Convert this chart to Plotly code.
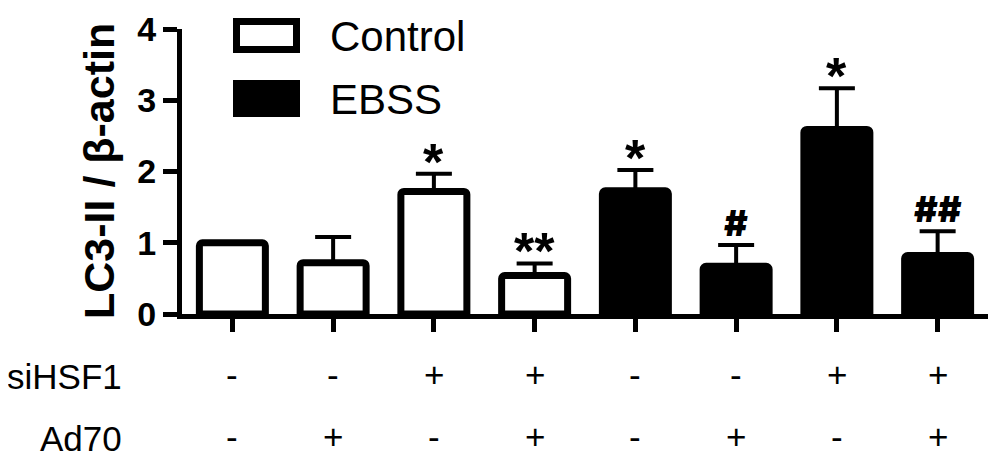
import plotly.graph_objects as go

# ---------------- data ----------------
groups = ["Control", "EBSS"]
bar_pos = [0, 1, 2, 3, 4, 5, 6, 7]
bar_group = ["Control", "Control", "Control", "Control", "EBSS", "EBSS", "EBSS", "EBSS"]
means = [1.00, 0.72, 1.72, 0.54, 1.73, 0.67, 2.59, 0.82]
err_up = [0.00, 0.36, 0.25, 0.17, 0.29, 0.30, 0.58, 0.34]
sig_marks = ["", "", "*", "**", "*", "#", "*", "##"]
siHSF1 = ["-", "-", "+", "+", "-", "-", "+", "+"]
ad70 = ["-", "+", "-", "+", "-", "+", "-", "+"]
row_labels = ["siHSF1", "Ad70"]
y_ticks = [0, 1, 2, 3, 4]
y_title = "LC3-II / β-actin"

# ---------------- style ----------------
FONT = "Arial, Liberation Sans, sans-serif"
HASH_FONT = "Inter, DejaVu Sans, sans-serif"
fills = {"Control": "white", "EBSS": "black"}
W, H = 1000, 476
OFF = 8  # page body margin
# plot area in screen pixels
PL, PR, PT, PB = 182, 988, 29, 314
ml, mr, mt, mb = PL - OFF, W - (PR - OFF), PT - OFF, H - (PB - OFF)
pw, ph = PR - PL, PB - PT


def px2paper_x(px):
    return (px - PL) / pw


def px2paper_y(py):
    return (PB - py) / ph


fig = go.Figure()
for g in groups:
    idx = [i for i, gg in enumerate(bar_group) if gg == g]
    fig.add_trace(go.Bar(
        x=[bar_pos[i] for i in idx],
        y=[means[i] for i in idx],
        width=0.655,
        name=g,
        marker=dict(color=fills[g], line=dict(color="black", width=7), cornerradius=3),
        error_y=dict(type="data", symmetric=False,
                     array=[err_up[i] for i in idx],
                     arrayminus=[0 for _ in idx],
                     color="black", thickness=4, width=18),
        showlegend=False,
    ))

annotations = []
# significance marks
for i, s in enumerate(sig_marks):
    if not s:
        continue
    is_star = "*" in s
    annotations.append(dict(
        x=bar_pos[i], y=means[i] + err_up[i], xref="x", yref="y",
        text=s, showarrow=False, yanchor="middle",
        yshift=(12 if is_star else 22),
        font=dict(family=FONT if is_star else HASH_FONT,
                  size=52 if is_star else 36, color="black",
                  weight=700 if is_star else 900),
    ))

# condition rows
rows = [siHSF1, ad70]
row_y = [374, 436]
for lab, vals, py in zip(row_labels, rows, row_y):
    annotations.append(dict(
        x=px2paper_x(124), y=px2paper_y(py + 2), xref="paper", yref="paper",
        text=lab, showarrow=False, xanchor="right", yanchor="middle",
        font=dict(family=FONT, size=35, color="black"),
    ))
    for i, v in enumerate(vals):
        annotations.append(dict(
            x=bar_pos[i], y=px2paper_y(py), xref="x", yref="paper",
            text=v, showarrow=False, xanchor="center", yanchor="middle",
            font=dict(family=FONT, size=35, color="black"),
        ))

# y-axis title
annotations.append(dict(
    x=px2paper_x(99), y=px2paper_y(171), xref="paper", yref="paper",
    text="<b>" + y_title + "</b>", textangle=-90, showarrow=False,
    xanchor="center", yanchor="middle",
    font=dict(family=FONT, size=43, color="black"),
))

# legend (drawn manually to get large swatches)
shapes = []
leg_rows = [(groups[0], 18, 53), (groups[1], 80, 117)]
for g, top, bot in leg_rows:
    shapes.append(dict(
        type="rect", xref="paper", yref="paper",
        x0=px2paper_x(236.5), x1=px2paper_x(296.5),
        y0=px2paper_y(bot - 3.5), y1=px2paper_y(top + 3.5),
        line=dict(color="black", width=7), fillcolor=fills[g], layer="above",
    ))
    annotations.append(dict(
        x=px2paper_x(328), y=px2paper_y((top + bot) / 2 + 1), xref="paper", yref="paper",
        text=g, showarrow=False, xanchor="left", yanchor="middle",
        font=dict(family=FONT, size=42, color="black"),
    ))

fig.update_layout(
    width=W, height=H,
    margin=dict(l=ml, r=mr, t=mt, b=mb, pad=0, autoexpand=False),
    plot_bgcolor="white", paper_bgcolor="white",
    barmode="overlay",
    annotations=annotations, shapes=shapes,
    font=dict(family=FONT, color="black"),
    xaxis=dict(range=[-0.5, 7.5], showline=True, linecolor="black", linewidth=5,
               ticks="outside", tickvals=bar_pos, ticklen=13, tickwidth=5,
               tickcolor="black", showticklabels=False, showgrid=False, zeroline=False,
               fixedrange=True, automargin=False),
    yaxis=dict(range=[0, 4], showline=True, linecolor="black", linewidth=5,
               ticks="outside", tickvals=y_ticks,
               ticktext=["<b>%d</b>" % t for t in y_ticks],
               ticklen=14, tickwidth=5, tickcolor="black",
               tickfont=dict(family=FONT, size=34, color="black"),
               showgrid=False, zeroline=False, fixedrange=True, automargin=False),
)

fig.write_html("out.html")
